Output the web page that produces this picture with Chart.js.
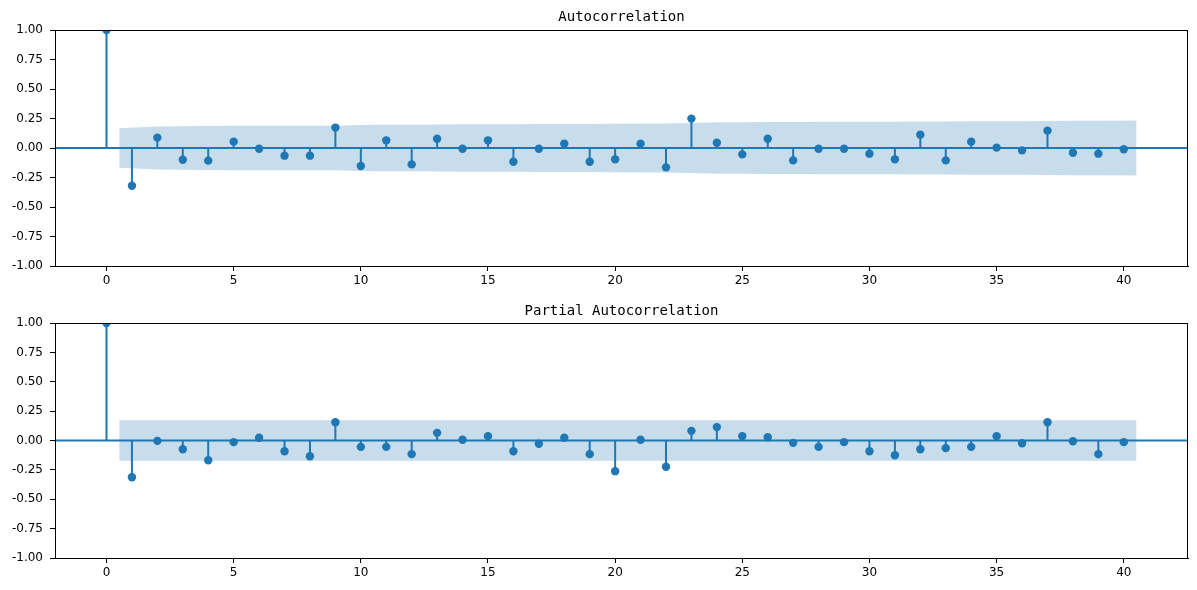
<!DOCTYPE html>
<html>
<head>
<meta charset="utf-8">
<title>ACF / PACF</title>
<script src="https://cdn.jsdelivr.net/npm/chart.js@4.4.1/dist/chart.umd.min.js"></script>
<style>
  html, body { margin: 0; padding: 0; background: #ffffff; }
  #wrap { position: relative; width: 1197px; height: 590px; }
  canvas { position: absolute; left: 0; }
  #acfChart { top: 0; }
  #pacfChart { top: 295px; }
</style>
</head>
<body>
<div id="wrap">
  <canvas id="acfChart" width="1197" height="295" style="width:1197px;height:295px"></canvas>
  <canvas id="pacfChart" width="1197" height="295" style="width:1197px;height:295px"></canvas>
</div>
<script>
// Lags 0..40
const lags = [0, 1, 2, 3, 4, 5, 6, 7, 8, 9, 10, 11, 12, 13, 14, 15, 16, 17, 18, 19, 20,
  21, 22, 23, 24, 25, 26, 27, 28, 29, 30, 31, 32, 33, 34, 35, 36, 37, 38, 39, 40];

// Autocorrelation values
const acfValues = [1.0, -0.32, 0.088, -0.099, -0.107, 0.054, -0.006, -0.065, -0.065, 0.173,
  -0.153, 0.065, -0.139, 0.079, -0.006, 0.065, -0.116, -0.006, 0.037, -0.116,
  -0.096, 0.037, -0.164, 0.249, 0.045, -0.054, 0.079, -0.105, -0.006, -0.006,
  -0.048, -0.096, 0.113, -0.105, 0.054, 0.003, -0.02, 0.147, -0.04, -0.048, -0.011];

// ACF confidence half-width for lags 1..40
const acfBand = [0.168, 0.183, 0.185, 0.186, 0.188, 0.188, 0.188, 0.189, 0.189, 0.194,
  0.197, 0.198, 0.200, 0.201, 0.201, 0.202, 0.204, 0.204, 0.204, 0.206,
  0.207, 0.207, 0.211, 0.219, 0.219, 0.220, 0.220, 0.222, 0.222, 0.222,
  0.223, 0.224, 0.225, 0.226, 0.227, 0.227, 0.228, 0.230, 0.231, 0.232];

// Partial autocorrelation values
const pacfValues = [1.0, -0.3125, -0.003, -0.074, -0.168, -0.014, 0.023, -0.091, -0.134, 0.156,
  -0.054, -0.054, -0.116, 0.065, 0.006, 0.037, -0.091, -0.028, 0.023, -0.116,
  -0.261, 0.006, -0.224, 0.082, 0.114, 0.037, 0.028, -0.02, -0.054, -0.014,
  -0.091, -0.125, -0.074, -0.065, -0.054, 0.037, -0.023, 0.156, -0.006, -0.116, -0.014];

// PACF confidence half-width (constant)
const pacfBandLimit = 0.173;

const xTicks = [0, 5, 10, 15, 20, 25, 30, 35, 40];
const yTicks = [-1, -0.75, -0.5, -0.25, 0, 0.25, 0.5, 0.75, 1];

const BLUE = '#1f77b4';
const BAND_FILL = 'rgba(31, 119, 180, 0.25)';
const X_MIN = -2.025;
const X_MAX = 42.525;

/**
 * Draw title and full axes frame
 */
const framePlugin = {
  id: 'frame',
  afterDraw(chart, args, opts) {
    const { ctx, chartArea } = chart;
    ctx.save();
    ctx.strokeStyle = '#000';
    ctx.lineWidth = 1;
    ctx.strokeRect(Math.round(chartArea.left) + 0.5, Math.round(chartArea.top) + 0.5,
      Math.round(chartArea.right - chartArea.left) - 1, Math.round(chartArea.bottom - chartArea.top));
    ctx.fillStyle = '#000';
    ctx.font = '14px "DejaVu Sans Mono", "Liberation Mono", monospace';
    ctx.textAlign = 'center';
    ctx.textBaseline = 'alphabetic';
    ctx.fillText(opts.text, (chartArea.left + chartArea.right) / 2, opts.titleY);
    ctx.restore();
  },
};

/**
 * Build a stem chart with its confidence band
 */
function buildStemChart(canvasId, title, values, bandValues, layout) {
  // band x positions: lags 1..40, first pulled to 0.5 and last pushed to 40.5
  const bandLags = lags.slice(1).map((l, i, arr) => {
    if (i === 0) return l - 0.5;
    if (i === arr.length - 1) return l + 0.5;
    return l;
  });

  const upper = bandLags.map((x, i) => ({ x: x, y: bandValues[i] }));
  const lower = bandLags.map((x, i) => ({ x: x, y: -bandValues[i] }));

  const stems = [];
  lags.forEach((l, i) => {
    stems.push({ x: l, y: 0 });
    stems.push({ x: l, y: values[i] });
    stems.push({ x: l, y: null });
  });

  const markers = lags.map((l, i) => ({ x: l, y: values[i] }));

  return new Chart(document.getElementById(canvasId), {
    type: 'line',
    data: {
      datasets: [
        {
          label: 'markers',
          data: markers,
          showLine: false,
          pointRadius: 4.2,
          pointHoverRadius: 4.2,
          pointBackgroundColor: BLUE,
          pointBorderWidth: 0,
          clip: 0,
        },
        {
          label: 'zero',
          data: [{ x: X_MIN, y: 0 }, { x: X_MAX, y: 0 }],
          borderColor: BLUE,
          borderWidth: 2,
          pointRadius: 0,
          clip: 0,
        },
        {
          label: 'stems',
          data: stems,
          borderColor: BLUE,
          borderWidth: 2,
          pointRadius: 0,
          spanGaps: false,
          clip: 0,
        },
        {
          label: 'upper',
          data: upper,
          borderWidth: 0,
          borderColor: 'rgba(0,0,0,0)',
          backgroundColor: BAND_FILL,
          pointRadius: 0,
          fill: '+1',
          tension: 0,
          clip: 0,
        },
        {
          label: 'lower',
          data: lower,
          borderWidth: 0,
          borderColor: 'rgba(0,0,0,0)',
          pointRadius: 0,
          fill: false,
          tension: 0,
          clip: 0,
        },
      ],
    },
    options: {
      responsive: false,
      animation: false,
      events: [],
      layout: {
        padding: { top: layout.top, right: 9, bottom: 0, left: 0 },
      },
      plugins: {
        legend: { display: false },
        title: { display: false },
        tooltip: { enabled: false },
        frame: { text: title, titleY: layout.titleY },
      },
      scales: {
        x: {
          type: 'linear',
          min: X_MIN,
          max: X_MAX,
          afterBuildTicks: (scale) => {
            scale.ticks = xTicks.map((v) => ({ value: v }));
          },
          afterFit: (scale) => {
            scale.height = layout.xHeight;
          },
          grid: {
            drawOnChartArea: false,
            drawTicks: true,
            tickLength: 5,
            tickColor: '#000',
            tickWidth: 1,
          },
          border: { display: true, color: '#000', width: 1 },
          ticks: {
            color: '#000',
            padding: 3,
            maxRotation: 0,
            font: { family: '"DejaVu Sans", sans-serif', size: 12 },
            callback: (v) => String(v),
          },
        },
        y: {
          type: 'linear',
          min: -1,
          max: 1,
          afterBuildTicks: (scale) => {
            scale.ticks = yTicks.map((v) => ({ value: v }));
          },
          afterFit: (scale) => {
            scale.width = 55;
          },
          grid: {
            drawOnChartArea: false,
            drawTicks: true,
            tickLength: 5,
            tickColor: '#000',
            tickWidth: 1,
          },
          border: { display: true, color: '#000', width: 1 },
          ticks: {
            color: '#000',
            padding: 7,
            font: { family: '"DejaVu Sans", sans-serif', size: 12 },
            callback: (v) => Number(v).toFixed(2),
          },
        },
      },
    },
    plugins: [framePlugin],
  });
}

const pacfBand = lags.slice(1).map(() => pacfBandLimit);

buildStemChart('acfChart', 'Autocorrelation', acfValues, acfBand,
  { top: 30, xHeight: 29, titleY: 21 });
buildStemChart('pacfChart', 'Partial Autocorrelation', pacfValues, pacfBand,
  { top: 28, xHeight: 32, titleY: 20 });
</script>
</body>
</html>
